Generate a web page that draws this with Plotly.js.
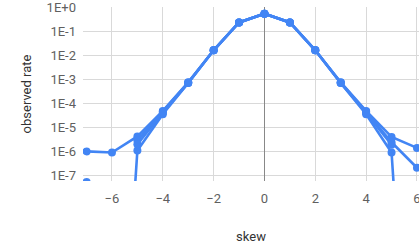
<!DOCTYPE html>
<html>
<head>
<meta charset="utf-8">
<script src="https://cdn.plot.ly/plotly-3.0.1.min.js"></script>
<style>html,body{margin:0;padding:0;background:#fff}#chart{width:419px;height:251px}</style>
</head>
<body>
<div id="chart"></div>
<script>
var skew = [-7, -6, -5, -4, -3, -2, -1, 0, 1, 2, 3, 4, 5, 6];
var seriesA = [1.0e-6, 9.0e-7, 4.2e-6, 4.8e-5, 7.4e-4, 0.016, 0.23, 0.53, 0.23, 0.016, 7.4e-4, 4.8e-5, 4.0e-6, 1.4e-6];
var seriesB = [5.4e-8, 1e-22, 1.1e-6, 3.5e-5, 7.0e-4, 0.016, 0.23, 0.53, 0.23, 0.016, 7.0e-4, 3.5e-5, 9.0e-7, 1e-22];
var seriesC = [null, null, 2.9e-6, 4.4e-5, 7.2e-4, 0.016, 0.23, 0.53, 0.23, 0.016, 7.2e-4, 4.4e-5, 2.4e-6, 2.1e-7];
var seriesD = [null, null, 2.0e-6, 4.0e-5, 7.1e-4, 0.016, 0.23, 0.53, 0.23, 0.016, 7.1e-4, 4.0e-5, 1.9e-6, null];
var yTickVals = [1, 1e-1, 1e-2, 1e-3, 1e-4, 1e-5, 1e-6, 1e-7];
var yTickText = ["1E+0", "1E-1", "1E-2", "1E-3", "1E-4", "1E-5", "1E-6", "1E-7"];
var xTickVals = [-6, -4, -2, 0, 2, 4, 6];

var color = "#4285f4";
var allSeries = [seriesA, seriesB, seriesC, seriesD];
var data = allSeries.map(function (s) {
  return {
    x: skew, y: s, type: "scatter", mode: "lines+markers",
    line: {color: color, width: 2.6},
    marker: {color: color, size: 8},
    connectgaps: false, showlegend: false, hoverinfo: "none"
  };
});

var font = {family: "Roboto, 'Noto Sans', sans-serif", size: 13, color: "#5f5f5f"};
var layout = {
  width: 419, height: 251,
  margin: {l: 83, r: 0, t: 7, b: 70},
  paper_bgcolor: "#fff", plot_bgcolor: "#fff",
  font: font,
  showlegend: false,
  xaxis: {
    range: [-7.14, 6.08],
    tickvals: xTickVals,
    showgrid: true, gridcolor: "#d9d9d9", gridwidth: 1,
    zeroline: true, zerolinecolor: "#888", zerolinewidth: 1.6,
    showline: false, ticks: "",
    ticklabelstandoff: 8,
    ticklabeloverflow: "allow",
    tickfont: font,
    title: {text: "skew", font: {family: font.family, size: 13, color: "#333"}, standoff: 26}
  },
  yaxis: {
    type: "log",
    range: [-7.23, 0.002],
    tickvals: yTickVals,
    ticktext: yTickText,
    showgrid: true, gridcolor: "#d9d9d9", gridwidth: 1,
    zeroline: false, showline: false, ticks: "",
    ticklabelstandoff: 6,
    ticklabeloverflow: "allow",
    tickfont: font,
    title: {text: "observed rate", font: {family: font.family, size: 13, color: "#333"}, standoff: 12}
  }
};
Plotly.newPlot("chart", data, layout, {displayModeBar: false, staticPlot: true});
</script>
</body>
</html>
